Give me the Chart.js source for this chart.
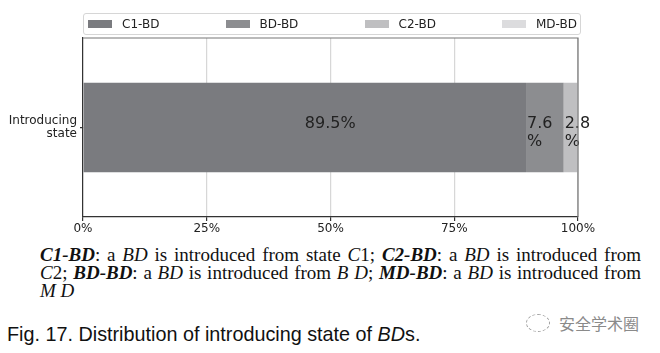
<!DOCTYPE html>
<html>
<head>
<meta charset="utf-8">
<script src="https://cdn.jsdelivr.net/npm/chart.js@4"></script>
<style>
    body { margin: 0; background: #fff; width: 660px; height: 353px; overflow: hidden; position: relative; }
    #chartBox { position: absolute; left: 0; top: 0; width: 660px; height: 240px; }
    #legend {
        position: absolute; left: 83px; top: 13px; width: 489px; height: 20px;
        border: 1px solid #d6d6d6; border-radius: 3px;
        display: flex; justify-content: space-between; align-items: center;
        font-family: "DejaVu Sans", sans-serif; font-size: 12px; color: #222;
        padding: 0 3px 0 4px; box-sizing: content-box;
    }
    #legend .item { display: flex; align-items: center; }
    #legend .swatch { width: 24px; height: 8px; margin-right: 10px; }
    #note {
        position: absolute; left: 40px; top: 246px; width: 601px;
        font-family: "Liberation Serif", "DejaVu Serif", serif; font-size: 19px;
        line-height: 18px; color: #111;
    }
    #note .line { display: block; text-align: justify; text-align-last: justify; }
    #note .last { display: block; text-align: left; }
    #fig {
        position: absolute; left: 7px; top: 323px;
        font-family: "Liberation Sans", Arial, sans-serif; font-size: 19.8px; color: #111;
    }
    #mark {
        position: absolute; left: 526px; top: 311px;
        font-family: "Noto Sans CJK SC", sans-serif; font-size: 16px; color: #8a8a8a;
        display: flex; align-items: center;
    }
    #mark .icon { width: 22px; height: 16px; border: 1.5px dashed #a0a0a0; border-radius: 50%; margin-right: 9px; }
</style>
</head>
<body>
<div id="chartBox"><canvas id="stateChart"></canvas></div>
<div id="legend"></div>
<div id="note"><span class="line"><b><i>C1-BD</i></b>: a <i>BD</i> is introduced from state <i>C</i>1; <b><i>C2-BD</i></b>: a <i>BD</i> is introduced from</span><span class="line"><i>C</i>2; <b><i>BD-BD</i></b>: a <i>BD</i> is introduced from <i>B D</i>; <b><i>MD-BD</i></b>: a <i>BD</i> is introduced from</span><span class="last"><i>M D</i></span></div>
<div id="fig">Fig. 17. Distribution of introducing state of <i>BD</i>s.</div>
<div id="mark"><span class="icon"></span>安全学术圈</div>
<script>
const categories = [['Introducing', 'state']];
const seriesNames = ['C1-BD', 'BD-BD', 'C2-BD', 'MD-BD'];
const seriesValues = [[89.5], [7.6], [2.8], [0.1]];
const seriesColors = ['#7a7b7f', '#8c8d90', '#bfbfc1', '#dcdcde'];
const tickValues = [0, 25, 50, 75, 100];

// legend spread across the plot width, like the original
const legendEl = document.getElementById('legend');
seriesNames.forEach((name, i) => {
    const item = document.createElement('div');
    item.className = 'item';
    item.innerHTML = '<span class="swatch" style="background:' + seriesColors[i] + '"></span>' + name;
    legendEl.appendChild(item);
});

// percentage labels inside the segments, wrapping when the segment is narrow
const segmentLabels = {
    id: 'segmentLabels',
    afterDatasetsDraw(chart) {
        const ctx = chart.ctx;
        ctx.save();
        ctx.font = '16px "DejaVu Sans"';
        ctx.fillStyle = '#222';
        ctx.textAlign = 'left';
        ctx.textBaseline = 'alphabetic';
        chart.data.datasets.forEach((ds, i) => {
            chart.getDatasetMeta(i).data.forEach((bar, j) => {
                const v = ds.data[j];
                if (v < 1) return;
                const left = Math.min(bar.base, bar.x);
                const width = Math.abs(bar.x - bar.base);
                const text = v + '%';
                if (ctx.measureText(text).width < width / 2) {
                    ctx.fillText(text, left + width / 2, bar.y);
                } else {
                    ctx.fillText(String(v), left + 1, bar.y);
                    ctx.fillText('%', left + 1, bar.y + 18);
                }
            });
        });
        ctx.restore();
    }
};

// top and right spines
const frame = {
    id: 'frame',
    afterDraw(chart) {
        const a = chart.chartArea;
        const ctx = chart.ctx;
        ctx.save();
        ctx.strokeStyle = '#777';
        ctx.lineWidth = 1.2;
        ctx.beginPath();
        ctx.moveTo(a.left, a.top);
        ctx.lineTo(a.right, a.top);
        ctx.lineTo(a.right, a.bottom);
        ctx.stroke();
        ctx.restore();
    }
};

const ctx = document.getElementById('stateChart').getContext('2d');
new Chart(ctx, {
    type: 'bar',
    data: {
        labels: categories,
        datasets: seriesNames.map((name, i) => ({
            label: name,
            data: seriesValues[i],
            backgroundColor: seriesColors[i],
            categoryPercentage: 1,
            barPercentage: 0.5,
        }))
    },
    options: {
        indexAxis: 'y',
        responsive: true,
        maintainAspectRatio: false,
        animation: false,
        layout: { padding: { top: 38, right: 82, bottom: 0, left: 0 } },
        plugins: {
            legend: { display: false },
            tooltip: { enabled: false },
        },
        scales: {
            x: {
                stacked: true,
                min: 0,
                max: 100,
                z: 1,
                afterBuildTicks: scale => { scale.ticks = tickValues.map(v => ({ value: v })); },
                afterFit: scale => { scale.height = 23; },
                ticks: {
                    color: '#222',
                    padding: 1,
                    maxRotation: 0,
                    font: { family: 'DejaVu Sans', size: 12 },
                    callback: v => v + '%'
                },
                grid: {
                    color: 'rgba(176,176,176,0.5)',
                    lineWidth: 1.2,
                    tickColor: '#333',
                    tickLength: 4,
                },
                border: { color: '#333', width: 1.2 }
            },
            y: {
                stacked: true,
                z: 1,
                afterFit: scale => { scale.width = 83; },
                ticks: {
                    color: '#222',
                    padding: 3,
                    font: { family: 'DejaVu Sans', size: 12, lineHeight: 1.1 }
                },
                grid: {
                    offset: false,
                    color: 'rgba(176,176,176,0.5)',
                    lineWidth: 1.2,
                    tickColor: '#333',
                    tickLength: 3,
                },
                border: { color: '#333', width: 1.2 }
            }
        }
    },
    plugins: [segmentLabels, frame]
});
</script>
</body>
</html>
